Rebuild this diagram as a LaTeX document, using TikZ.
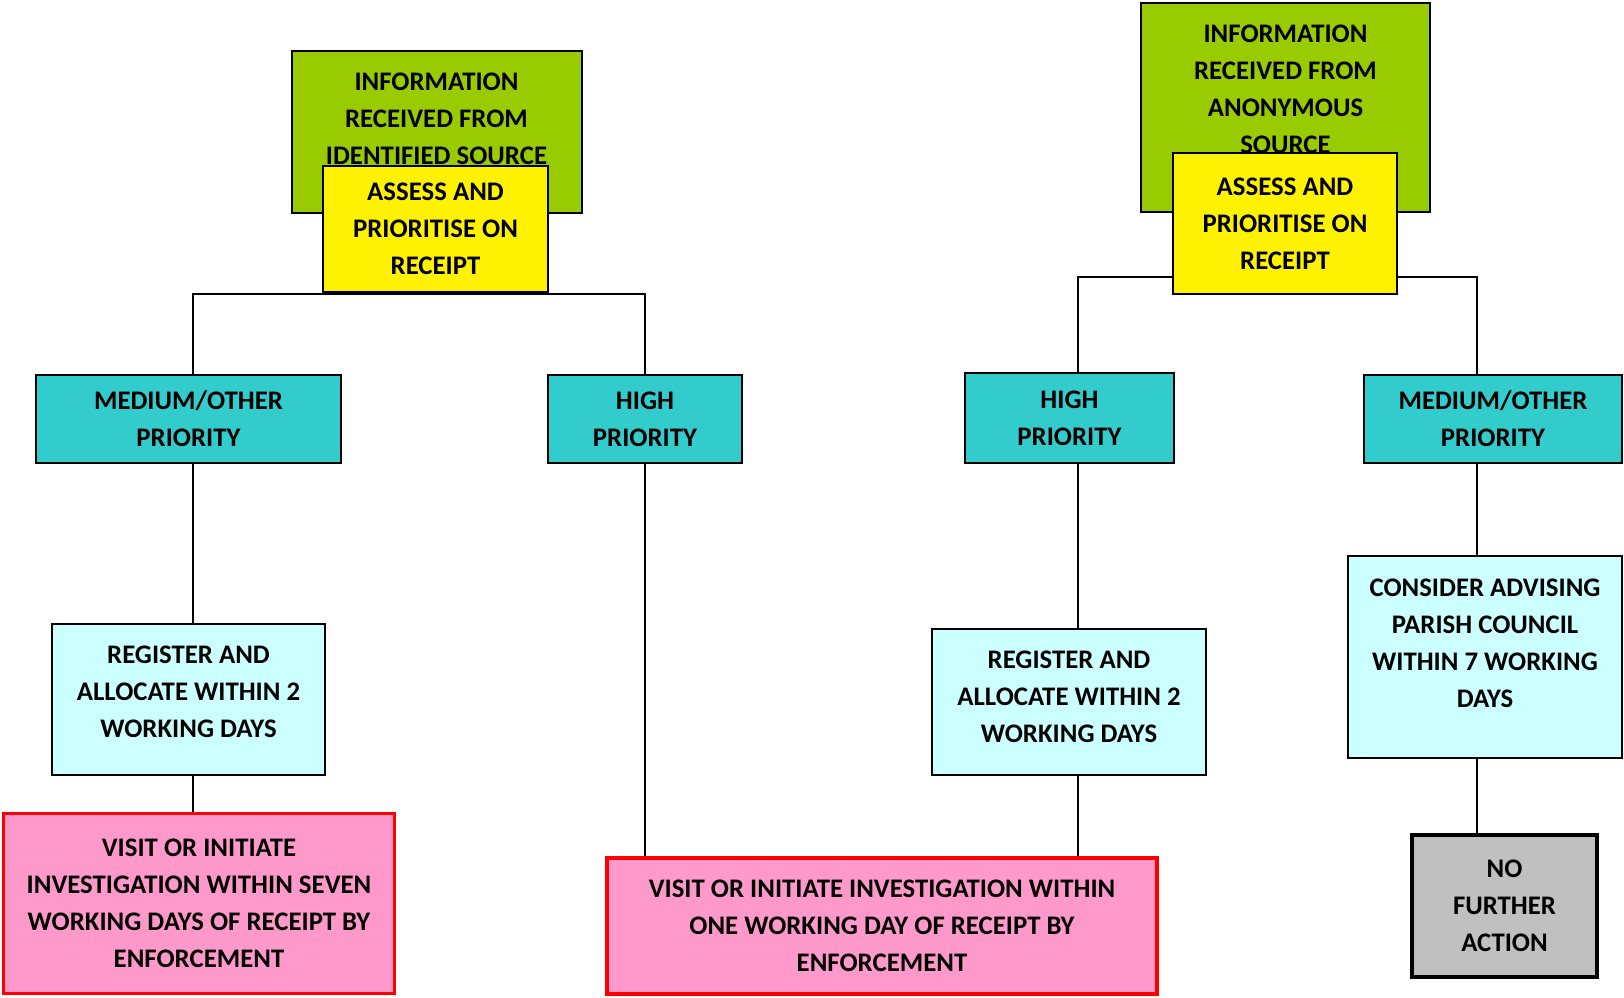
\documentclass[tikz,border=0pt]{standalone}
\usepackage{fontspec}
\setmainfont{Carlito}
\usepackage{tikz}

\definecolor{srcgreen}{HTML}{99CC00}
\definecolor{tealbox}{HTML}{33CCCC}
\definecolor{paleblue}{HTML}{CCFFFF}
\definecolor{pinkbox}{HTML}{FF99CC}
\definecolor{greybox}{HTML}{C0C0C0}

\begin{document}
\begin{tikzpicture}[x=0.5pt,y=-0.5pt,
  box/.style={draw=black, line width=1pt, inner sep=0pt, align=center,
    font=\fontsize{13.4}{18.5}\selectfont\bfseries},
  srcbox/.style={box, fill=srcgreen},
  assessbox/.style={box, fill=yellow},
  prio/.style={box, fill=tealbox},
  regbox/.style={box, fill=paleblue},
  visitbox/.style={box, draw=red, line width=1.6pt, fill=pinkbox},
  nfabox/.style={box, line width=1.6pt, fill=greybox},
  boxtext/.style={align=center, inner sep=0pt,
    font=\fontsize{13.4}{18.5}\selectfont\bfseries},
  link/.style={line width=1pt}]

\useasboundingbox (0,0) rectangle (1624,997);

%\draw[help lines,step=50] (0,0) grid (1624,997);

% identified source side
\node[srcbox, minimum width=145pt, minimum height=81pt] (srcA) at (436.5,131.5) {};
\node[boxtext] (srcAtext) at (436.5,119) {INFORMATION\\RECEIVED FROM\\IDENTIFIED SOURCE};
\node[assessbox, minimum width=112.5pt, minimum height=63pt] (asA) at (435.5,229)
     {ASSESS AND\\PRIORITISE ON\\RECEIPT};

% anonymous source side
\node[srcbox, minimum width=144.5pt, minimum height=104.5pt] (srcB) at (1285.5,107.5) {};
\node[boxtext] (srcBtext) at (1285.5,89) {INFORMATION\\RECEIVED FROM\\ANONYMOUS\\SOURCE};
\node[assessbox, minimum width=112pt, minimum height=70.5pt] (asB) at (1285,223.5)
     {ASSESS AND\\PRIORITISE ON\\RECEIPT};

\node[prio, minimum width=152.5pt, minimum height=44pt] (medA) at (188.5,419) {MEDIUM/OTHER\\PRIORITY};
\node[prio, minimum width=97pt, minimum height=44pt] (hiA) at (645,419) {HIGH\\PRIORITY};
\node[prio, minimum width=104.5pt, minimum height=45pt] (hiB) at (1069.5,418) {HIGH\\PRIORITY};
\node[prio, minimum width=129pt, minimum height=44pt] (medB) at (1493,419) {MEDIUM/OTHER\\PRIORITY};

\node[regbox, minimum width=136.5pt, minimum height=75.5pt] (regA) at (188.5,699.5) {};
\node[boxtext] (regAtext) at (188.5,692)
     {REGISTER AND\\ALLOCATE WITHIN 2\\WORKING DAYS};
\node[regbox, minimum width=137pt, minimum height=73pt] (regB) at (1069,702) {};
\node[boxtext] (regBtext) at (1069,697)
     {REGISTER AND\\ALLOCATE WITHIN 2\\WORKING DAYS};
\node[regbox, minimum width=137pt, minimum height=101pt] (conB) at (1485,657) {};
\node[boxtext] (conBtext) at (1485,643)
     {CONSIDER ADVISING\\PARISH COUNCIL\\WITHIN 7 WORKING\\DAYS};

\node[visitbox, minimum width=195.5pt, minimum height=90pt] (visA) at (199,903.5)
     {VISIT OR INITIATE\\INVESTIGATION WITHIN SEVEN\\WORKING DAYS OF RECEIPT BY\\ENFORCEMENT};
\node[visitbox, minimum width=275pt, minimum height=68pt] (visB) at (882,926)
     {VISIT OR INITIATE INVESTIGATION WITHIN\\ONE WORKING DAY OF RECEIPT BY\\ENFORCEMENT};
\node[nfabox, minimum width=92.5pt, minimum height=71pt] (nfaB) at (1504.5,906)
     {NO\\FURTHER\\ACTION};

% junctions
\coordinate (lA) at (193,294);
\coordinate (rA) at (645,294);
\coordinate (lB) at (1078,277);
\coordinate (rB) at (1477,277);

\draw[link] (medA.north -| lA) -- (lA) -- (rA) -- (hiA.north);
\draw[link] (medA.south -| lA) -- (regA.north -| lA);
\draw[link] (regA.south -| lA) -- (visA.north -| lA);
\draw[link] (hiA.south) -- (visB.north -| hiA.south);

\draw[link] (hiB.north -| lB) -- (lB) -- (asB.west |- lB);
\draw[link] (asB.east |- rB) -- (rB) -- (medB.north -| rB);
\draw[link] (hiB.south -| lB) -- (regB.north -| lB);
\draw[link] (regB.south -| lB) -- (visB.north -| lB);
\draw[link] (medB.south -| rB) -- (conB.north -| rB);
\draw[link] (conB.south -| rB) -- (nfaB.north -| rB);

\end{tikzpicture}
\end{document}
